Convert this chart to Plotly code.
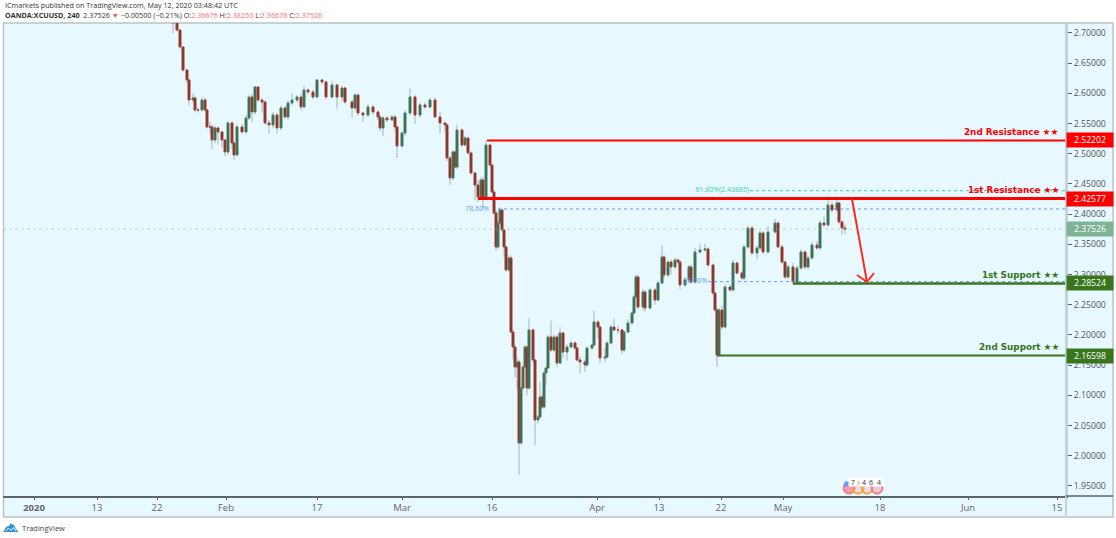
""" plot.py

    XCUUSD 4h chart with support / resistance levels, redrawn with Plotly.
    The x axis is a plain slot number, about one slot per screen pixel.
"""

import plotly.graph_objs as go

slots = [
    139, 143, 146, 149, 153, 155, 159, 161, 164, 168,
    171, 173, 176, 178, 181, 184, 188, 191, 194, 198,
    200, 203, 208, 212, 215, 218, 221, 224, 228, 231,
    235, 239, 243, 247, 251, 254, 258, 263, 267, 270, 274,
    279, 283, 288, 292, 298, 303, 308, 311, 318, 321,
    324, 329, 334, 339, 344, 346, 349, 353, 358, 361, 363,
    368, 371, 376, 381, 386, 391, 396, 401, 406, 411,
    413, 416, 419, 421, 423, 428, 431, 434, 437, 441,
    444, 447, 449, 452, 456, 458, 460, 462, 464, 466,
    468, 470, 472, 475, 477, 479, 481, 483, 485, 487,
    489, 491, 493, 495, 499, 501, 504, 506, 508, 510,
    512, 514, 517, 520, 523, 526, 529, 533, 537, 541,
    543, 546, 551, 553, 558, 560, 564, 566, 571, 573,
    577, 580, 584, 588, 590, 594, 598, 600, 602, 604,
    609, 611, 616, 621, 624, 628, 630, 634, 637, 641,
    644, 646, 651, 655, 657, 661, 666, 671, 674, 679,
    681, 683, 685, 688, 691, 696, 699, 703, 708, 710,
    714, 718, 723, 726, 729, 734, 741, 744, 748, 751,
    754, 759, 763, 767, 771, 774, 778, 783, 786, 790,
    794, 798, 803, 805, 808, 811,
]
opens = [
    2.7220, 2.7165, 2.7049, 2.6768, 2.6387, 2.6222, 2.5890, 2.5924, 2.5725, 2.5725,
    2.5890, 2.5725, 2.5444, 2.5444, 2.5228, 2.5427, 2.5361, 2.5228, 2.5030, 2.5510,
    2.5178, 2.4980, 2.5444, 2.5361, 2.5592, 2.5940, 2.5692, 2.6106, 2.5890, 2.5857,
    2.5510, 2.5477, 2.5642, 2.5427, 2.5758, 2.5609, 2.5841, 2.5890, 2.5940, 2.5775, 2.6056,
    2.6023, 2.5940, 2.6222, 2.6189, 2.5940, 2.6139, 2.5940, 2.6089, 2.5857, 2.5758,
    2.5973, 2.5675, 2.5642, 2.5775, 2.5692, 2.5609, 2.5427, 2.5592, 2.5560, 2.5609, 2.5444,
    2.5129, 2.5344, 2.5675, 2.5940, 2.5642, 2.5808, 2.5775, 2.5890, 2.5609, 2.5510,
    2.5477, 2.4930, 2.4599, 2.5030, 2.4781, 2.5394, 2.5145, 2.5261, 2.5013, 2.4682,
    2.4483, 2.4285, 2.4566, 2.4268, 2.5145, 2.4814, 2.4367, 2.4020, 2.3457, 2.3854,
    2.4069, 2.3738, 2.3457, 2.3076, 2.3275, 2.2049, 2.1801, 2.1470, 2.1553, 2.0212,
    2.1122, 2.1470, 2.1801, 2.1122, 2.2083, 2.1586, 2.0593, 2.0642, 2.0973, 2.0808,
    2.1371, 2.1453, 2.1967, 2.1751, 2.1967, 2.1536, 2.2033, 2.1718, 2.1801, 2.1867,
    2.1784, 2.1586, 2.1553, 2.1503, 2.1784, 2.1834, 2.2215, 2.2132, 2.1619, 2.1635,
    2.1867, 2.2132, 2.2083, 2.2083, 2.1751, 2.2049, 2.2198, 2.2364, 2.2629, 2.2960,
    2.2463, 2.2712, 2.2447, 2.2745, 2.2579, 2.2861, 2.3291, 2.2993, 2.3208, 2.3126,
    2.3242, 2.3208, 2.2828, 2.2910, 2.3126, 2.2877, 2.3374, 2.3407, 2.3424, 2.3159,
    2.2695, 2.2414, 2.1669, 2.2414, 2.2132, 2.2794, 2.2745, 2.3192, 2.3026, 2.2943,
    2.3457, 2.3771, 2.3357, 2.3440, 2.3688, 2.3374, 2.3705, 2.3854, 2.3457, 2.3208,
    2.2960, 2.3126, 2.2877, 2.3109, 2.3374, 2.3126, 2.3275, 2.3490, 2.3440, 2.3854,
    2.3821, 2.4152, 2.4069, 2.4185, 2.3871, 2.3771,
]
highs = [
    2.7230, 2.7180, 2.7060, 2.6780, 2.6400, 2.6240, 2.6000, 2.5950, 2.5760, 2.5930,
    2.5930, 2.5750, 2.5530, 2.5480, 2.5460, 2.5450, 2.5380, 2.5250, 2.5540, 2.5530,
    2.5200, 2.5480, 2.5490, 2.5640, 2.5970, 2.5990, 2.6120, 2.6120, 2.5920, 2.5880,
    2.5560, 2.5690, 2.5680, 2.5800, 2.5790, 2.5870, 2.6000, 2.5970, 2.5990, 2.6120, 2.6080,
    2.6060, 2.6240, 2.6240, 2.6210, 2.6200, 2.6160, 2.6130, 2.6110, 2.5890, 2.6000,
    2.6010, 2.5700, 2.5820, 2.5810, 2.5720, 2.5640, 2.5620, 2.5620, 2.5640, 2.5640, 2.5470,
    2.5380, 2.5720, 2.6080, 2.5970, 2.5850, 2.5860, 2.5930, 2.5930, 2.5690, 2.5520,
    2.5500, 2.4960, 2.5060, 2.5050, 2.5480, 2.5420, 2.5300, 2.5280, 2.5040, 2.4700,
    2.4560, 2.4610, 2.4620, 2.5220, 2.5160, 2.4830, 2.4400, 2.4060, 2.3900, 2.4110,
    2.4090, 2.3760, 2.3480, 2.3320, 2.3310, 2.2090, 2.1840, 2.1640, 2.1590, 2.1150,
    2.1500, 2.1830, 2.1830, 2.2280, 2.2110, 2.1610, 2.0680, 2.1220, 2.1000, 2.1400,
    2.1480, 2.2000, 2.2240, 2.2010, 2.2000, 2.2130, 2.2060, 2.1840, 2.1900, 2.1900,
    2.1810, 2.1640, 2.1590, 2.1810, 2.1860, 2.2400, 2.2240, 2.2160, 2.1780, 2.1900,
    2.2170, 2.2270, 2.2150, 2.2110, 2.2080, 2.2260, 2.2390, 2.2660, 2.3000, 2.2990,
    2.2760, 2.2740, 2.2780, 2.2780, 2.2900, 2.3480, 2.3320, 2.3240, 2.3250, 2.3280,
    2.3260, 2.3240, 2.2950, 2.3160, 2.3160, 2.3440, 2.3510, 2.3510, 2.3450, 2.3180,
    2.2720, 2.2440, 2.2450, 2.2480, 2.2830, 2.2830, 2.3240, 2.3210, 2.3060, 2.3490,
    2.3810, 2.3810, 2.3480, 2.3730, 2.3720, 2.3800, 2.3920, 2.3880, 2.3490, 2.3230,
    2.3160, 2.3190, 2.3150, 2.3420, 2.3400, 2.3320, 2.3540, 2.3560, 2.3900, 2.3960,
    2.4300, 2.4200, 2.4300, 2.4200, 2.3900, 2.3825,
]
lows = [
    2.7000, 2.7020, 2.6740, 2.6360, 2.6180, 2.5800, 2.5850, 2.5690, 2.5680, 2.5700,
    2.5700, 2.5420, 2.5340, 2.5080, 2.5180, 2.5150, 2.5100, 2.4960, 2.4990, 2.5080,
    2.4900, 2.4960, 2.5330, 2.5340, 2.5560, 2.5520, 2.5650, 2.5870, 2.5680, 2.5490,
    2.5330, 2.5420, 2.5340, 2.5390, 2.5580, 2.5570, 2.5800, 2.5850, 2.5720, 2.5750, 2.5990,
    2.5900, 2.5920, 2.6150, 2.5900, 2.5920, 2.5750, 2.5880, 2.5830, 2.5600, 2.5720,
    2.5630, 2.5530, 2.5610, 2.5650, 2.5560, 2.5380, 2.5290, 2.5530, 2.5540, 2.5380, 2.4930,
    2.5100, 2.5300, 2.5640, 2.5490, 2.5600, 2.5740, 2.5750, 2.5590, 2.5330, 2.5360,
    2.4880, 2.4480, 2.4560, 2.4760, 2.4750, 2.5110, 2.5130, 2.4990, 2.4660, 2.4230,
    2.4200, 2.4240, 2.4080, 2.4250, 2.4780, 2.4340, 2.4000, 2.3400, 2.3430, 2.3830,
    2.3710, 2.3300, 2.3050, 2.3050, 2.2030, 2.1600, 2.1300, 2.1100, 1.9683, 2.0180,
    2.1090, 2.1430, 2.1000, 2.1090, 2.1550, 2.0178, 2.0530, 2.0620, 2.0780, 2.0780,
    2.1180, 2.1430, 2.1720, 2.1720, 2.1470, 2.1510, 2.1620, 2.1580, 2.1780, 2.1760,
    2.1560, 2.1360, 2.1390, 2.1480, 2.1750, 2.1810, 2.1950, 2.1530, 2.1550, 2.1600,
    2.1840, 2.2060, 2.2020, 2.1690, 2.1720, 2.2020, 2.2170, 2.2340, 2.2600, 2.2430,
    2.2410, 2.2380, 2.2420, 2.2500, 2.2550, 2.2840, 2.2950, 2.2960, 2.3000, 2.3090,
    2.3170, 2.2760, 2.2790, 2.2880, 2.2850, 2.2850, 2.3350, 2.3380, 2.3130, 2.2670,
    2.2390, 2.1470, 2.1640, 2.2090, 2.2110, 2.2720, 2.2720, 2.3000, 2.2900, 2.2910,
    2.3430, 2.3320, 2.3250, 2.3410, 2.3340, 2.3350, 2.3680, 2.3430, 2.3180, 2.2930,
    2.2930, 2.2852, 2.2850, 2.3080, 2.3090, 2.3090, 2.3250, 2.3410, 2.3410, 2.3790,
    2.3790, 2.4030, 2.4040, 2.3840, 2.3650, 2.3668,
]
closes = [
    2.7165, 2.7049, 2.6768, 2.6387, 2.6222, 2.5890, 2.5924, 2.5725, 2.5725, 2.5890,
    2.5725, 2.5444, 2.5444, 2.5228, 2.5427, 2.5361, 2.5228, 2.5030, 2.5510, 2.5178,
    2.4980, 2.5444, 2.5361, 2.5592, 2.5940, 2.5692, 2.6106, 2.5890, 2.5857, 2.5510,
    2.5477, 2.5642, 2.5427, 2.5758, 2.5609, 2.5841, 2.5890, 2.5940, 2.5775, 2.6056, 2.6023,
    2.5940, 2.6222, 2.6189, 2.5940, 2.6139, 2.5940, 2.6089, 2.5857, 2.5758, 2.5973,
    2.5675, 2.5642, 2.5775, 2.5692, 2.5609, 2.5427, 2.5592, 2.5560, 2.5609, 2.5444, 2.5129,
    2.5344, 2.5675, 2.5940, 2.5642, 2.5808, 2.5775, 2.5890, 2.5609, 2.5510, 2.5477,
    2.4930, 2.4599, 2.5030, 2.4781, 2.5394, 2.5145, 2.5261, 2.5013, 2.4682, 2.4483,
    2.4285, 2.4566, 2.4268, 2.5145, 2.4814, 2.4367, 2.4020, 2.3457, 2.3854, 2.4069,
    2.3738, 2.3457, 2.3076, 2.3275, 2.2049, 2.1801, 2.1470, 2.1553, 2.0212, 2.1122,
    2.1470, 2.1801, 2.1122, 2.2083, 2.1586, 2.0593, 2.0642, 2.0973, 2.0808, 2.1371,
    2.1453, 2.1967, 2.1751, 2.1967, 2.1536, 2.2033, 2.1718, 2.1801, 2.1867, 2.1784,
    2.1586, 2.1553, 2.1503, 2.1784, 2.1834, 2.2215, 2.2132, 2.1619, 2.1635, 2.1867,
    2.2132, 2.2083, 2.2083, 2.1751, 2.2049, 2.2198, 2.2364, 2.2629, 2.2960, 2.2463,
    2.2712, 2.2447, 2.2745, 2.2579, 2.2861, 2.3291, 2.2993, 2.3208, 2.3126, 2.3242,
    2.3208, 2.2828, 2.2910, 2.3126, 2.2877, 2.3374, 2.3407, 2.3424, 2.3159, 2.2695,
    2.2414, 2.1669, 2.2414, 2.2132, 2.2794, 2.2745, 2.3192, 2.3026, 2.2943, 2.3457,
    2.3771, 2.3357, 2.3440, 2.3688, 2.3374, 2.3705, 2.3854, 2.3457, 2.3208, 2.2960,
    2.3126, 2.2877, 2.3109, 2.3374, 2.3126, 2.3275, 2.3490, 2.3440, 2.3854, 2.3821,
    2.4152, 2.4069, 2.4185, 2.3871, 2.3771, 2.3753,
]

# axis ticks
x_tick_slots = [0, 63, 123, 192, 283, 368, 458, 563, 625, 687, 749, 846, 934, 1023]
x_tick_labels = ["<b>2020</b>", "13", "22", "Feb", "17", "Mar", "16", "Apr", "13", "22", "May", "18", "Jun", "15"]
y_ticks = [2.70, 2.65, 2.60, 2.55, 2.50, 2.45, 2.40, 2.35, 2.30, 2.25, 2.20, 2.15, 2.10, 2.05, 2.00, 1.95]

# support / resistance levels
level_names = ["2nd Resistance ★★", "1st Resistance ★★", "1st Support ★★", "2nd Support ★★"]
level_prices = [2.52202, 2.42577, 2.28524, 2.16598]
level_starts = [453, 444, 759, 683]
level_colors = ["#ff0000", "#ff0000", "#38761d", "#38761d"]
level_widths = [2, 3, 2.5, 2]

# fibonacci retracements
fib_labels = ["78.60%", "50.00%", "61.80%(2.43885)"]
fib_prices = [2.4086, 2.2883, 2.43885]
fib_starts = [464, 674, 716]
fib_label_ends = [455, 673, 715]
fib_colors = ["#5b9cf6", "#5b9cf6", "#33d1a0"]

last_price = 2.37526
x_end = 1032

# the projected move
arrow_slots = [818, 833, None, 823, 833, 840]
arrow_prices = [2.4252, 2.2877, None, 2.2993, 2.2877, 2.3026]

# economic calendar bubbles
event_slots = [815, 824, 833, 843]
event_prices = [1.9467, 1.9467, 1.9467, 1.9467]
event_colors = ["#f77a8a", "#f5a742", "#f5a742", "#f77a8a"]
event_fills = ["rgba(247,122,138,0.7)", "rgba(247,122,138,0.2)", "rgba(247,122,138,0.2)", "rgba(247,122,138,0.35)"]
event_counts = ["7", "4", "6", "4"]
event_count_slots = [819, 830, 837, 845]

FONT = "Open Sans"
LEVEL_FONT = "DejaVu Sans"
PANEL = "#e8f8ff"
AXIS_SIZE = 8.7


def px_x(x):
    # Screen pixel to paper fraction, plot area runs 3..1066
    return (x - 3) / 1063


def px_y(y):
    # Screen pixel to paper fraction, plot area runs 23..496
    return (496 - y) / 473


def path_from(points):
    return "M" + " L".join("{:.4f} {:.4f}".format(px_x(x), px_y(y)) for x, y in points)


def text_note(x, y, text, size=10, color="#333333", family=FONT, anchor="left"):
    return dict(
        xref="paper", yref="paper", x=px_x(x), y=px_y(y),
        text=text, showarrow=False, xanchor=anchor, yanchor="middle",
        font=dict(family=family, size=size, color=color)
    )


traces = []

# Last price line, and the fib levels go under the candles
traces.append(go.Scatter(
    x=[-31, x_end], y=[last_price, last_price], mode="lines",
    line=dict(color="rgba(120,185,160,0.45)", width=1, dash="dot")
))
for label, price, start, end, color in zip(fib_labels, fib_prices, fib_starts, fib_label_ends, fib_colors):
    traces.append(go.Scatter(
        x=[start, x_end], y=[price, price], mode="lines",
        line=dict(color=color, width=1, dash="dot")
    ))
    traces.append(go.Scatter(
        x=[end], y=[price], mode="text", text=[label], textposition="middle left",
        textfont=dict(family=FONT, size=7, color=color)
    ))

# Pale wicks first, bodies on top without their own wicks
traces.append(go.Ohlc(
    x=slots, open=opens, high=highs, low=lows, close=closes, tickwidth=0,
    increasing=dict(line=dict(color="rgba(105,115,115,0.5)", width=1)),
    decreasing=dict(line=dict(color="rgba(105,115,115,0.5)", width=1))
))
traces.append(go.Candlestick(
    x=slots, open=opens, close=closes,
    high=[max(o, c) for o, c in zip(opens, closes)],
    low=[min(o, c) for o, c in zip(opens, closes)],
    increasing=dict(fillcolor="#245c3a", line=dict(color="#437f5e", width=1)),
    decreasing=dict(fillcolor="#6a1c0d", line=dict(color="#b23526", width=1))
))

for price, start, color, width in zip(level_prices, level_starts, level_colors, level_widths):
    traces.append(go.Scatter(
        x=[start, x_end], y=[price, price], mode="lines",
        line=dict(color=color, width=width)
    ))

traces.append(go.Scatter(
    x=arrow_slots, y=arrow_prices, mode="lines",
    line=dict(color="#ff2a1f", width=2)
))
traces.append(go.Scatter(
    x=event_slots, y=event_prices, mode="markers",
    marker=dict(symbol="circle", size=11, color=event_fills, line=dict(width=2, color=event_colors))
))
traces.append(go.Scatter(
    x=[event_slots[0] - 2], y=[1.9533], mode="markers",
    marker=dict(symbol="square", size=5, color="#5b9cf6")
))

annotations = [
    text_note(3, 5, "ICmarkets published on TradingView.com, May 12, 2020 03:48:42 UTC", size=7.2),
    text_note(
        3, 15,
        "<b>OANDA:XCUUSD, 240</b>  2.37526 <span style='color:#f0544f'>▼</span> −0.00500 (−0.21%) "
        "O:<span style='color:#ff6b6b'>2.36676</span> H:<span style='color:#ff6b6b'>2.38250</span> "
        "L:<span style='color:#ff6b6b'>2.36676</span> C:<span style='color:#ff6b6b'>2.37526</span>",
        size=7.2
    ),
    text_note(20, 527.5, "TradingView", size=7.5, color="#444444"),
]

# Labels over the levels and the coloured price tags on the axis
label_rows = [132, 190, 275, 347]
for name, color, row in zip(level_names, level_colors, label_rows):
    annotations.append(text_note(1061, row, "<b>" + name + "</b>", size=8.8, color=color, family=LEVEL_FONT, anchor="right"))
tag_prices = level_prices + [last_price]
tag_colors = ["#ff0000", "#ff0000", "#38761d", "#38761d", "#7fb595"]
for price, color in zip(tag_prices, tag_colors):
    annotations.append(dict(
        xref="paper", yref="y", x=1, y=price, text="{:.5f}".format(price),
        showarrow=False, xanchor="left", yanchor="middle", width=46, height=14,
        bgcolor=color, borderpad=0, font=dict(family=FONT, size=AXIS_SIZE, color="#ffffff")
    ))
for slot, count in zip(event_count_slots, event_counts):
    annotations.append(dict(
        xref="x", yref="y", x=slot, y=1.9566, text=count, showarrow=False,
        width=8, height=8, bgcolor="#ffffff", borderpad=0,
        font=dict(family=FONT, size=7, color="#333333")
    ))

shapes = [
    # chart frame behind everything
    dict(
        type="rect", xref="paper", yref="paper", layer="below",
        x0=px_x(3.5), x1=px_x(1113), y0=px_y(517), y1=px_y(23),
        fillcolor=PANEL, line=dict(color="#b9c3c7", width=1.5)
    ),
    # axis strip divider below the time scale side
    dict(
        type="line", xref="paper", yref="paper",
        x0=px_x(1066), x1=px_x(1066), y0=px_y(517), y1=px_y(23),
        line=dict(color="#c4d3da", width=2)
    ),
    dict(
        type="line", xref="paper", yref="paper",
        x0=px_x(1066), x1=px_x(1113), y0=px_y(496), y1=px_y(496),
        line=dict(color="#5c6468", width=1.5)
    ),
    # TradingView cloud logo
    dict(
        type="path", xref="paper", yref="paper",
        path=path_from([(3.5, 532), (6, 527), (9, 526), (11, 523.5), (14, 525), (16, 529), (18.5, 532)]) + " Z",
        fillcolor="#2a8fe0", line=dict(width=0)
    ),
    dict(
        type="path", xref="paper", yref="paper",
        path=path_from([(6, 531), (8.5, 528), (11, 530.5), (13.5, 527.5), (16, 531)]),
        line=dict(color="#ffffff", width=1)
    ),
]

layout = go.Layout(
    width=1116,
    height=538,
    autosize=False,
    margin=dict(l=3, r=50, t=23, b=42, pad=0),
    paper_bgcolor="#ffffff",
    plot_bgcolor=PANEL,
    showlegend=False,
    boxgap=0,
    boxgroupgap=0,
    font=dict(family=FONT, size=10, color="#555555"),
    xaxis=dict(
        range=[-31, x_end], tickmode="array", tickvals=x_tick_slots, ticktext=x_tick_labels,
        showgrid=False, zeroline=False, showline=True, linecolor="#5c6468", linewidth=1.5,
        ticks="outside", ticklen=2, tickcolor="#5c6468", rangeslider=dict(visible=False),
        tickfont=dict(family=FONT, size=9.5, color="#666666")
    ),
    yaxis=dict(
        side="right", range=[1.9334, 2.7165], tickmode="array", tickvals=y_ticks,
        tickformat=".5f", showgrid=False, zeroline=False, showline=True,
        linecolor="#c4d3da", linewidth=2, ticks="outside", ticklen=4, tickcolor="#5c6468",
        tickfont=dict(family=FONT, size=AXIS_SIZE, color="#555555")
    ),
    annotations=annotations,
    shapes=shapes
)

fig = go.Figure(data=traces, layout=layout)
fig.write_html(
    "out.html",
    config=dict(displayModeBar=False),
    post_script="document.body.style.margin = '0';"
)
